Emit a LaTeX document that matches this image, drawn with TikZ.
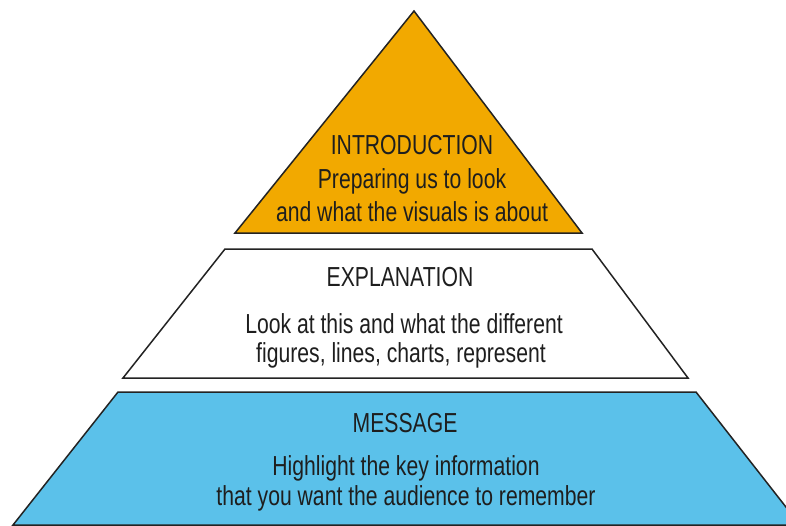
\documentclass[tikz,border=0pt]{standalone}
\usepackage{fontspec}
\setmainfont[FakeStretch=0.77]{Liberation Sans}
\definecolor{introfill}{RGB}{242,169,0}
\definecolor{msgfill}{RGB}{91,193,234}
\definecolor{edge}{RGB}{35,35,35}
\definecolor{txt}{RGB}{30,30,30}
\begin{document}
\begin{tikzpicture}[x=1pt,y=-1pt,
  tier/.style={draw=edge,line width=1.5pt,line join=miter},
  lbl/.style={anchor=base,inner sep=0pt,text=txt,font=\fontsize{27.5}{27.5}\selectfont}]
\clip (0,0) rectangle (786,525);
\fill[white] (0,0) rectangle (786,525);
% tiers
\draw[tier,fill=introfill] (414,11) -- (582,233) -- (235,233) -- cycle;
\draw[tier,fill=white] (225,249) -- (592,249) -- (688,378) -- (123,378) -- cycle;
\draw[tier,fill=msgfill] (118,392) -- (696,392) -- (800,525) -- (13,525) -- cycle;
% texts
\node[lbl] (i1) at (412,154) {INTRODUCTION};
\node[lbl] (i2) at (412,188) {Preparing us to look};
\node[lbl] (i3) at (412,221) {and what the visuals is about};
\node[lbl] (e1) at (400,286) {EXPLANATION};
\node[lbl] (e2) at (404,333) {Look at this and what the different};
\node[lbl] (e3) at (401,362) {figures, lines, charts, represent};
\node[lbl] (m1) at (405,432) {MESSAGE};
\node[lbl] (m2) at (406,475) {Highlight the key information};
\node[lbl] (m3) at (406,505) {that you want the audience to remember};
\end{tikzpicture}
\end{document}
